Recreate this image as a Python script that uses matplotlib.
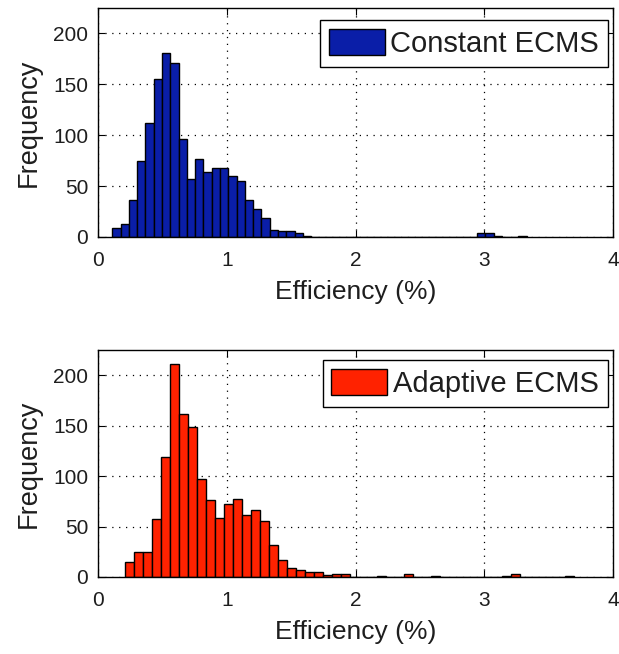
import numpy as np
import matplotlib
matplotlib.use("Agg")
import matplotlib.pyplot as plt

plt.rcParams['font.family'] = ['Liberation Sans', 'DejaVu Sans']

# histogram counts, 50 bins each
const_lo, const_hi = 0.111, 3.33
const_counts = [9, 13, 36, 75, 112, 155, 181, 171, 96, 57,
                77, 64, 68, 68, 60, 55, 36, 28, 19, 7,
                6, 6, 4, 1, 0, 0, 0, 0, 0, 0,
                0, 0, 0, 0, 0, 0, 0, 0, 0, 0,
                0, 0, 0, 0, 4, 4, 1, 0, 0, 1]

adapt_lo, adapt_hi = 0.21, 3.70
adapt_counts = [15, 25, 25, 57, 119, 211, 162, 149, 97, 76,
                58, 72, 77, 61, 66, 56, 32, 17, 9, 7,
                5, 5, 2, 3, 3, 0, 0, 0, 1, 0,
                0, 3, 0, 0, 1, 0, 0, 0, 0, 0,
                0, 0, 1, 3, 0, 0, 0, 0, 0, 1]

fig = plt.figure(figsize=(6.19, 6.54), dpi=100)
W, H = 619, 654
ax1 = fig.add_axes([98 / W, 1 - 237 / H, 515 / W, 229 / H])
ax2 = fig.add_axes([98 / W, 1 - 577 / H, 515 / W, 227 / H])

txt = '#1e1e1e'


def draw(ax, lo, hi, counts, color, label, leg_y):
    edges = np.linspace(lo, hi, len(counts) + 1)
    ax.bar(edges[:-1], counts, width=np.diff(edges), align='edge',
           color=color, edgecolor='black', linewidth=1.0, label=label)
    ax.set_xlim(0, 4)
    ax.set_ylim(0, 225)
    ax.set_xticks([0, 1, 2, 3, 4])
    ax.set_yticks([0, 50, 100, 150, 200])
    ax.set_axisbelow(True)
    ax.grid(True, linestyle=(0, (1, 4.5)), color='black', linewidth=0.9)
    ax.tick_params(direction='in', labelsize=15, length=5,
                   top=True, right=True, labelcolor=txt)
    ax.tick_params(axis='x', pad=10)
    ax.tick_params(axis='y', pad=7)
    for s in ax.spines.values():
        s.set_linewidth(1.0)
    ax.set_xlabel('Efficiency (%)', fontsize=19, labelpad=7, color=txt)
    ax.set_ylabel('Frequency', fontsize=19.5, labelpad=8, color=txt)
    leg = ax.legend(loc='upper right', bbox_to_anchor=(0.990, leg_y),
                    fontsize=21, fancybox=False, framealpha=1,
                    edgecolor='black', handlelength=1.92, handleheight=1.03,
                    borderaxespad=0, handletextpad=0.2, borderpad=0.3)
    leg.get_frame().set_linewidth(1.0)
    for t in leg.get_texts():
        t.set_color(txt)


draw(ax1, const_lo, const_hi, const_counts, '#0a1ea8', 'Constant ECMS', 0.948)
draw(ax2, adapt_lo, adapt_hi, adapt_counts, '#ff2200', 'Adaptive ECMS', 0.956)

fig.savefig('out.png', dpi=100)
